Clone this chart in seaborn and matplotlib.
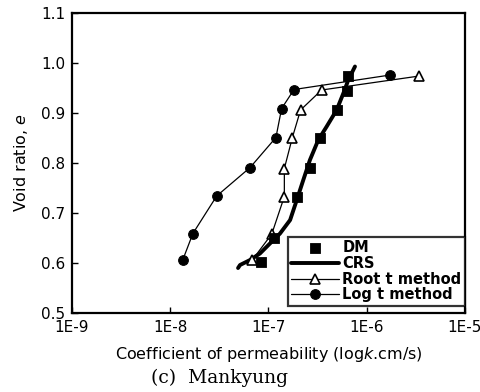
import matplotlib
matplotlib.use("Agg")
import matplotlib.pyplot as plt
import seaborn as sns
import pandas as pd
import numpy as np

# Data
dm_k = [8.3e-8, 1.15e-7, 1.94e-7, 2.64e-7, 3.35e-7, 5.03e-7, 6.25e-7, 6.49e-7]
dm_e = [0.603, 0.651, 0.732, 0.790, 0.850, 0.906, 0.944, 0.975]

crs_k = [4.9e-8, 5.13e-8, 6.49e-8, 8.18e-8, 1.035e-7, 1.31e-7, 1.66e-7, 1.94e-7,
         2.26e-7, 2.64e-7, 3.21e-7, 3.91e-7, 4.94e-7, 5.77e-7, 6.49e-7, 7.59e-7]
crs_e = [0.590, 0.596, 0.606, 0.619, 0.639, 0.659, 0.686, 0.726,
         0.766, 0.806, 0.846, 0.873, 0.906, 0.939, 0.966, 0.993]

root_k = [6.84e-8, 1.08e-7, 1.45e-7, 1.45e-7, 1.75e-7, 2.12e-7, 3.47e-7, 3.43e-6]
root_e = [0.606, 0.658, 0.733, 0.789, 0.851, 0.906, 0.946, 0.974]

log_k = [1.34e-8, 1.70e-8, 2.97e-8, 6.5e-8, 1.19e-7, 1.36e-7, 1.82e-7, 1.73e-6]
log_e = [0.606, 0.659, 0.734, 0.791, 0.851, 0.909, 0.947, 0.976]

x_ticks = [1e-9, 1e-8, 1e-7, 1e-6, 1e-5]
x_tick_labels = ["1E-9", "1E-8", "1E-7", "1E-6", "1E-5"]
y_ticks = [0.5, 0.6, 0.7, 0.8, 0.9, 1.0, 1.1]

sns.set_style("white")
plt.rcParams['font.family'] = ['DejaVu Sans']
plt.rcParams['text.color'] = 'black'
plt.rcParams['axes.labelcolor'] = 'black'
plt.rcParams['xtick.color'] = 'black'
plt.rcParams['ytick.color'] = 'black'

fig = plt.figure(figsize=(4.81, 3.92), dpi=100)
ax = fig.add_axes([0.1497, 0.2015, 0.817, 0.7653])

df_dm = pd.DataFrame({"k": dm_k, "e": dm_e})
df_crs = pd.DataFrame({"k": crs_k, "e": crs_e})
df_root = pd.DataFrame({"k": root_k, "e": root_e})
df_log = pd.DataFrame({"k": log_k, "e": log_e})

sns.lineplot(data=df_crs, x="k", y="e", sort=False, estimator=None, color="black",
             linewidth=2.8, ax=ax, label="CRS", zorder=3)
sns.lineplot(data=df_root, x="k", y="e", sort=False, estimator=None, color="black",
             linewidth=0.9, marker="^", markersize=7, markerfacecolor="white",
             markeredgecolor="black", markeredgewidth=1.2, ax=ax, label="Root t method", zorder=4)
sns.lineplot(data=df_log, x="k", y="e", sort=False, estimator=None, color="black",
             linewidth=0.9, marker="o", markersize=7, markerfacecolor="black",
             markeredgecolor="black", ax=ax, label="Log t method", zorder=4)
sns.scatterplot(data=df_dm, x="k", y="e", marker="s", s=55, color="black",
                edgecolor="black", ax=ax, label="DM", zorder=5)

ax.set_xscale("log")
ax.set_xlim(1e-9, 1e-5)
ax.set_ylim(0.5, 1.1)
ax.set_xticks(x_ticks)
ax.set_xticklabels(x_tick_labels)
ax.minorticks_off()
ax.set_yticks(y_ticks)
ax.set_yticklabels([f"{v:.1f}" for v in y_ticks])
ax.tick_params(direction="in", length=4, width=1, labelsize=11, colors="black",
               left=True, bottom=True, pad=5)
for sp in ax.spines.values():
    sp.set_color("black")
    sp.set_linewidth(1.6)

ax.set_xlabel("Coefficient of permeability (log$\\it{k}$.cm/s)", fontsize=11.5, labelpad=7)
ax.set_ylabel("Void ratio, $\\it{e}$", fontsize=11.5, labelpad=8)

handles, labels = ax.get_legend_handles_labels()
order = [labels.index(l) for l in ["DM", "CRS", "Root t method", "Log t method"]]
leg = ax.legend([handles[i] for i in order], [labels[i] for i in order],
                loc="lower right", bbox_to_anchor=(1.0, 0.023), frameon=True,
                fancybox=False, edgecolor="black",
                prop={"weight": "bold", "size": 10.5}, handlelength=3.3,
                borderpad=0.25, labelspacing=0.05, handletextpad=0.2,
                borderaxespad=0.0)
leg.get_frame().set_linewidth(1.6)
for t in leg.get_texts():
    t.set_color("black")

fig.text(0.457, 0.012, "(c)  Mankyung", ha="center", va="bottom",
         fontsize=13.5, family="DejaVu Serif", color="black")

fig.savefig("out.png", dpi=100)
